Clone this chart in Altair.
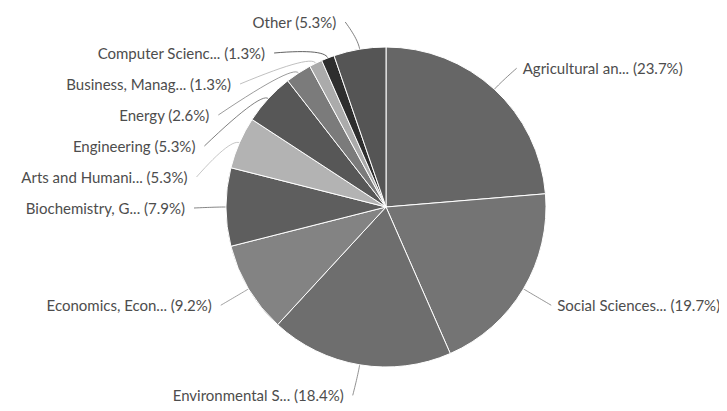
import math
import altair as alt
import pandas as pd

categories = [
    "Agricultural an...", "Social Sciences...", "Environmental S...",
    "Economics, Econ...", "Biochemistry, G...", "Arts and Humani...",
    "Engineering", "Energy", "Business, Manag...", "Computer Scienc...", "Other",
]
counts = [18, 15, 14, 7, 6, 4, 4, 2, 1, 1, 4]
colors = ["#666666", "#747474", "#6e6e6e", "#838383", "#5e5e5e", "#b3b3b3",
          "#575757", "#7b7b7b", "#ababab", "#2e2e2e", "#555555"]

W, H = 711, 400
CX, CY = 378, 199
R_PIE = 160
R_LAB = 190
GAP = 31
TOP = -186

total = sum(counts)
rows, cum = [], 0
for i, (c, n) in enumerate(zip(categories, counts)):
    mid = (cum + n / 2) / total * 2 * math.pi
    cum += n
    rows.append(dict(cat=c, count=n, idx=i, mid=mid,
                     text=f"{c} ({n / total * 100:.1f}%)",
                     side="left" if mid > math.pi else "right",
                     nat=-math.cos(mid) * R_LAB))
slices = pd.DataFrame(rows)

# distribute labels on each side to avoid overlap
for side in ["left", "right"]:
    sub = sorted([r for r in rows if r["side"] == side], key=lambda r: r["nat"])
    prev = None
    for r in sub:
        y = max(r["nat"], TOP)
        if prev is not None:
            y = max(y, prev + GAP)
        r["ly"] = y
        prev = y

lab_rows, con_rows = [], []
for r in rows:
    s = -1 if r["side"] == "left" else 1
    dy = r["ly"]
    ax = s * math.sqrt(max(R_LAB ** 2 - dy ** 2, 0))
    g = 11 if s < 0 else 8
    lab_rows.append(dict(cat=r["cat"], text=r["text"], side=r["side"],
                         x=ax + s * g, y=dy + 2))
    tx, ty = math.sin(r["mid"]) * R_PIE, -math.cos(r["mid"]) * R_PIE
    bx, by = math.sin(r["mid"]) * (R_PIE + 10), -math.cos(r["mid"]) * (R_PIE + 10)
    p0 = (ax + s * 2, dy + 1)
    k = 0
    for j in range(16):
        t = j / 15
        x = (1 - t) ** 2 * p0[0] + 2 * (1 - t) * t * bx + t ** 2 * tx
        y = (1 - t) ** 2 * p0[1] + 2 * (1 - t) * t * by + t ** 2 * ty
        con_rows.append(dict(cat=r["cat"], seq=k, x=x, y=y)); k += 1

labels = pd.DataFrame(lab_rows)
conns = pd.DataFrame(con_rows)

xs = alt.Scale(domain=[-CX, W - CX], range=[0, W])
ys = alt.Scale(domain=[-CY, H - CY], range=[0, H])
cs = alt.Scale(domain=categories, range=colors)

pie = alt.Chart(slices).mark_arc(outerRadius=R_PIE, stroke="white", strokeWidth=1).encode(
    theta=alt.Theta("count:Q", stack=True),
    order=alt.Order("idx:Q", sort="ascending"),
    color=alt.Color("cat:N", scale=cs, legend=None),
    x=alt.value(CX), y=alt.value(CY),
)

lines = alt.Chart(conns).mark_line(strokeWidth=1, opacity=0.75).encode(
    x=alt.X("x:Q", scale=xs, axis=None),
    y=alt.Y("y:Q", scale=ys, axis=None),
    color=alt.Color("cat:N", scale=cs, legend=None),
    order="seq:Q",
)

def text_layer(side, align):
    return alt.Chart(labels[labels.side == side]).mark_text(
        align=align, baseline="middle", font="Lato", fontSize=15, color="#4d4d4d"
    ).encode(
        x=alt.X("x:Q", scale=xs, axis=None),
        y=alt.Y("y:Q", scale=ys, axis=None),
        text="text:N",
    )

chart = alt.layer(lines, pie, text_layer("left", "right"), text_layer("right", "left")).properties(
    width=W, height=H, padding=0, autosize=alt.AutoSizeParams(type="none")
).configure_view(stroke=None)

chart.save("out.html", embed_options={"renderer": "svg", "actions": False})
